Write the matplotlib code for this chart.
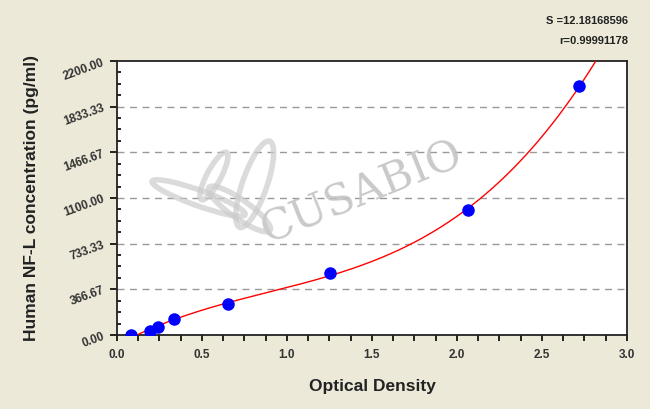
import matplotlib
matplotlib.use("Agg")
import matplotlib.pyplot as plt
from matplotlib.patches import Ellipse
import numpy as np

# standards: optical density vs concentration
od = [0.080, 0.195, 0.243, 0.335, 0.655, 1.253, 2.063, 2.720]
conc = [0.0, 31.25, 62.5, 125.0, 250.0, 500.0, 1000.0, 2000.0]

y_ticks = [0.0, 366.67, 733.33, 1100.0, 1466.67, 1833.33, 2200.0]
x_ticks = [0.0, 0.5, 1.0, 1.5, 2.0, 2.5, 3.0]

s_text = "S =12.18168596"
r_text = "r=0.99991178"

bg = "#ECE9D8"
plt.rcParams['font.family'] = ['Liberation Sans', 'DejaVu Sans']

fig = plt.figure(figsize=(6.5, 4.09), dpi=100, facecolor=bg)
ax = fig.add_axes([0.18, 0.181, 0.7846, 0.670])
ax.set_facecolor("white")

# fitted curve (cubic fit of the standards)
coef = np.polyfit(od, conc, 3)
xs = np.linspace(0.09, 2.95, 300)
ax.plot(xs, np.polyval(coef, xs), color="red", lw=1.0, zorder=3)
ax.plot(od, conc, "o", color="#0000FF", markersize=8, zorder=4)

ax.set_xlim(0, 3.0)
ax.set_ylim(0, 2200)
ax.set_xticks(x_ticks)
ax.set_xticklabels(["%.1f" % v for v in x_ticks], fontsize=8.5, fontweight="bold", color="#333333")
ax.set_xticks(np.arange(0, 3.001, 0.125), minor=True)
ax.set_yticks(y_ticks)
ax.set_yticklabels(["%.2f" % v for v in y_ticks], fontsize=8.5, fontweight="bold",
                   color="#333333", rotation=20)
ax.set_yticks(np.arange(0, 2200.1, 366.667 / 4), minor=True)

ax.tick_params(axis="x", which="both", direction="out", length=4, width=1.2, pad=6)
ax.tick_params(axis="y", which="major", direction="out", length=5, width=1.2, pad=3)
ax.tick_params(axis="y", which="minor", direction="in", length=3, width=1.2)

for v in y_ticks[1:-1]:
    ax.axhline(v, color="#999999", lw=1.0, ls=(0, (5, 4)), zorder=1)

for sp in ax.spines.values():
    sp.set_linewidth(1.3)
    sp.set_color("#222222")

ax.set_xlabel("Optical Density", fontsize=12.5, fontweight="bold", labelpad=13, color="#222222")
ax.set_ylabel("Human NF-L concentration (pg/ml)", fontsize=12.5, fontweight="bold",
              labelpad=16, color="#222222")

# watermark
ax.text(0.48, 0.52, "CUSABIO", transform=ax.transAxes, fontsize=31, family="DejaVu Serif",
        color="#c0c0c0", alpha=0.85, rotation=22, ha="center", va="center", zorder=2)
for cx, cy, w, h, a in [(0.16, 0.50, 0.22, 0.05, -35), (0.24, 0.46, 0.20, 0.05, -55),
                        (0.27, 0.55, 0.05, 0.32, -10), (0.19, 0.58, 0.03, 0.18, -15)]:
    ax.add_patch(Ellipse((cx, cy), w, h, angle=a, transform=ax.transAxes, fill=False,
                         ec="#cccccc", lw=4, alpha=0.7, zorder=2))

fig.text(0.966, 0.948, s_text, ha="right", va="center", fontsize=8, fontweight="bold", color="#222222")
fig.text(0.966, 0.900, r_text, ha="right", va="center", fontsize=8, fontweight="bold", color="#222222")

fig.savefig("out.png", dpi=100, facecolor=bg)
